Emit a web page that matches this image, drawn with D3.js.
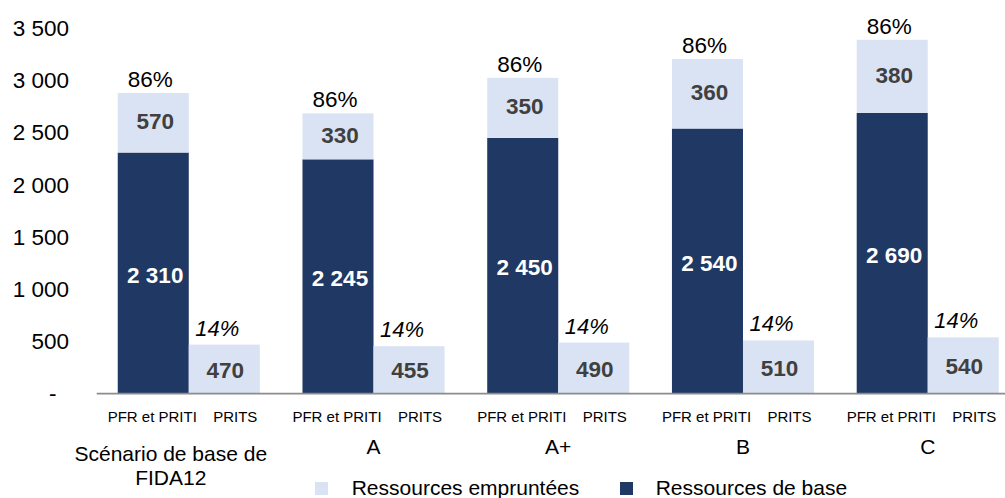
<!DOCTYPE html>
<html>
<head>
<meta charset="utf-8">
<script src="https://cdn.jsdelivr.net/npm/d3@7"></script>
<style>
  html, body { margin: 0; padding: 0; background: #fff; }
  svg { display: block; font-family: "Liberation Sans", Arial, sans-serif; }
</style>
</head>
<body>
<svg id="chart" width="1005" height="498"></svg>
<script>
// ---- Data ----
const groups = ["Scénario de base de\nFIDA12", "A", "A+", "B", "C"];
const subcats = ["PFR et PRITI", "PRITS"];
const baseResources = [2310, 2245, 2450, 2540, 2690];          // dark, PFR et PRITI
const borrowedPFR = [570, 440, 575, 665, 700];                 // light, drawn height on PFR et PRITI
const borrowedPFRLabels = [570, 330, 350, 360, 380];           // labels printed in the light segment
const borrowedPRITS = [470, 455, 490, 510, 540];               // light, PRITS
const sharePFR = ["86%", "86%", "86%", "86%", "86%"];
const sharePRITS = ["14%", "14%", "14%", "14%", "14%"];
const yTicks = [0, 500, 1000, 1500, 2000, 2500, 3000, 3500];
const legendItems = ["Ressources empruntées", "Ressources de base"];

// ---- Styles ----
const DARK = "#203864", LIGHT = "#DAE3F3", LABEL_GRAY = "#404040";

const svg = d3.select("#chart");
const loc = d3.formatLocale({decimal: ",", thousands: " ", grouping: [3], currency: ["", ""]});
const fmt = loc.format(",d");

const y = d3.scaleLinear().domain([0, 3500]).range([393.7, 28.3]);
const x0 = d3.scaleBand().domain(groups).range([96.4, 1020.1]).paddingInner(0.231).paddingOuter(0.1155);
const x1 = d3.scaleBand().domain(subcats).range([0, x0.bandwidth()]).padding(0);

// Y axis
const yAxis = d3.axisLeft(y).tickValues(yTicks).tickSize(0).tickPadding(3)
  .tickFormat(d => d === 0 ? "-\u00A0\u00A0" : fmt(d));
const gy = svg.append("g").attr("transform", "translate(72,0)").call(yAxis);
gy.select(".domain").remove();
gy.selectAll("text").attr("font-size", "22.5px").attr("fill", "#000")
  .attr("font-family", "'Liberation Sans', Arial, sans-serif");

// Bars
const data = groups.map((g, i) => ({
  g, i, base: baseResources[i], bor: borrowedPFR[i], borLab: borrowedPFRLabels[i],
  prits: borrowedPRITS[i], sp: sharePFR[i], ss: sharePRITS[i]
}));

const gg = svg.selectAll("g.grp").data(data).join("g").attr("class", "grp")
  .attr("transform", d => `translate(${x0(d.g)},0)`);

const bw = x1.bandwidth();
const xP = x1("PFR et PRITI"), xS = x1("PRITS");

// dark base
gg.append("rect").attr("x", xP).attr("width", bw)
  .attr("y", d => y(d.base)).attr("height", d => y(0) - y(d.base)).attr("fill", DARK);
// light borrowed on PFR
gg.append("rect").attr("x", xP).attr("width", bw)
  .attr("y", d => y(d.base + d.bor)).attr("height", d => y(d.base) - y(d.base + d.bor)).attr("fill", LIGHT);
// PRITS light
gg.append("rect").attr("x", xS).attr("width", bw)
  .attr("y", d => y(d.prits)).attr("height", d => y(0) - y(d.prits)).attr("fill", LIGHT);

// Labels
gg.append("text").attr("x", xP + bw / 2 + 2).attr("y", d => (y(d.base) + y(0)) / 2 + 2)
  .attr("dominant-baseline", "central").attr("text-anchor", "middle")
  .attr("font-size", "22.5px").attr("font-weight", "bold").attr("fill", "#fff")
  .text(d => fmt(d.base));
gg.append("text").attr("x", xP + bw / 2 + 2).attr("y", d => (y(d.base) + y(d.base + d.bor)) / 2 - 1)
  .attr("dominant-baseline", "central").attr("text-anchor", "middle")
  .attr("font-size", "22.5px").attr("font-weight", "bold").attr("fill", LABEL_GRAY)
  .text(d => fmt(d.borLab));
gg.append("text").attr("x", xS + bw / 2 + 1).attr("y", d => (y(d.prits) + y(0)) / 2 + 1)
  .attr("dominant-baseline", "central").attr("text-anchor", "middle")
  .attr("font-size", "22.5px").attr("font-weight", "bold").attr("fill", LABEL_GRAY)
  .text(d => fmt(d.prits));
gg.append("text").attr("x", xP + bw / 2 - 3).attr("y", d => y(d.base + d.bor) - 6)
  .attr("text-anchor", "middle").attr("font-size", "22.5px").attr("fill", "#000")
  .text(d => d.sp);
gg.append("text").attr("x", xS + bw / 2 - 7).attr("y", d => y(d.prits) - 9)
  .attr("text-anchor", "middle").attr("font-size", "22px").attr("font-style", "italic").attr("fill", "#000")
  .text(d => d.ss);

// Baseline axis line
svg.append("line").attr("x1", 96.7).attr("x2", 1005).attr("y1", y(0)).attr("y2", y(0))
  .attr("stroke", "#8c8c8c").attr("stroke-width", 1.8);

// Sub-category labels
gg.append("text").attr("x", xP + bw / 2 - 1).attr("y", 422).attr("text-anchor", "middle")
  .attr("font-size", "15px").attr("fill", "#000").text("PFR et PRITI");
gg.append("text").attr("x", xS + bw / 2 + 11).attr("y", 422).attr("text-anchor", "middle")
  .attr("font-size", "15px").attr("fill", "#000").text("PRITS");

// Group labels
gg.each(function(d) {
  const lines = d.g.split("\n");
  const t = d3.select(this).append("text").attr("text-anchor", "middle")
    .attr("font-size", "21px").attr("fill", "#000");
  const cx = x0.bandwidth() / 2 + (lines.length > 1 ? -18 : 0);
  const startY = lines.length > 1 ? 461 : 454;
  lines.forEach((ln, k) => {
    t.append("tspan").attr("x", cx).attr("y", startY + k * 24).text(ln);
  });
});

// Legend
const legendPos = [{sx: 315, tx: 351.7, c: LIGHT}, {sx: 620, tx: 655.7, c: DARK}];
const lg = svg.selectAll("g.leg").data(legendItems).join("g").attr("class", "leg");
lg.append("rect").attr("x", (d, i) => legendPos[i].sx).attr("y", 482).attr("width", 13).attr("height", 13)
  .attr("fill", (d, i) => legendPos[i].c);
lg.append("text").attr("x", (d, i) => legendPos[i].tx).attr("y", 495).attr("font-size", "21px")
  .attr("fill", "#000").text(d => d);
</script>
</body>
</html>
